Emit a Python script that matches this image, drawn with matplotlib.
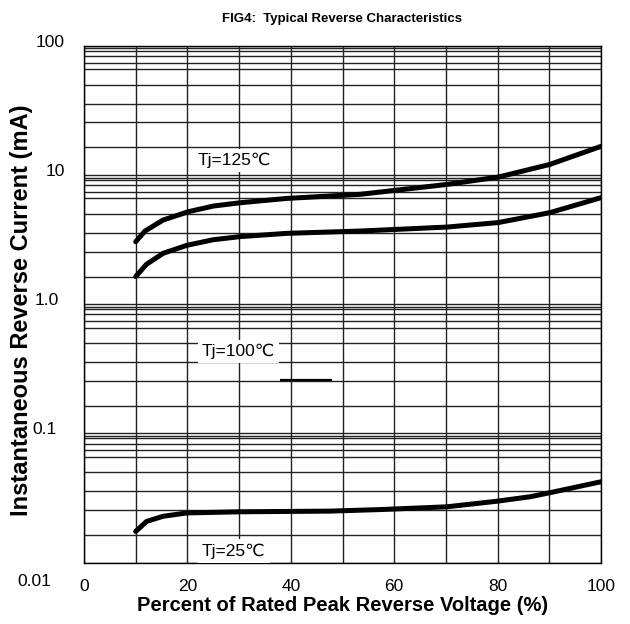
import matplotlib
matplotlib.use("Agg")
import matplotlib.pyplot as plt
from matplotlib.ticker import FixedLocator, NullFormatter
import matplotlib.transforms as mtransforms
from matplotlib import font_manager

# ---- data ----
t125_x = [10, 11.8, 15.3, 20.2, 25, 30.2, 39.2, 53.4, 70.2, 80.1, 90.1, 100]
t125_y = [3.05, 3.69, 4.49, 5.21, 5.76, 6.11, 6.6, 7.1, 8.47, 9.65, 12.1, 16.7]

t100_x = [10, 12.1, 15.3, 19.9, 25, 30.2, 39.2, 53.4, 70.2, 80.1, 90.1, 100]
t100_y = [1.64, 2.04, 2.48, 2.86, 3.16, 3.34, 3.54, 3.69, 3.96, 4.29, 5.12, 6.69]

t25_x = [10, 12.1, 15.3, 19.9, 30.2, 47.6, 57.3, 70.2, 79.8, 86.3, 90.1, 100]
t25_y = [0.0174, 0.0208, 0.0228, 0.0242, 0.0247, 0.0250, 0.0257, 0.027, 0.0298, 0.0323, 0.0347, 0.0422]

x_ticks = list(range(0, 101, 10))
x_ticklabels = ["0", "", "20", "", "40", "", "60", "", "80", "", "100"]
y_ticks = [0.01, 0.1, 1, 10, 100]
y_ticklabels = ["0.01", "0.1", "1.0", "10", "100"]
# grid multipliers inside each decade (as drawn on the datasheet)
decade_grid = [1.64, 2.56, 3.56, 4.99, 6.60, 7.39, 8.34, 9.165, 9.58]

plt.rcParams["font.family"] = ["Liberation Sans", "DejaVu Sans"]
names = {f.name for f in font_manager.fontManager.ttflist}
narrow = "Liberation Sans Narrow" if "Liberation Sans Narrow" in names else "Liberation Sans"

fig = plt.figure(figsize=(6.3, 6.24), dpi=100)
ax = fig.add_axes([84/630, 1-562.5/624, (601-84)/630, (562.5-46)/624])
ax.set_yscale("log")
ax.set_xlim(0, 100)
ax.set_ylim(0.01, 100)

minor = [d*m for d in [0.01, 0.1, 1, 10] for m in decade_grid]
ax.yaxis.set_major_locator(FixedLocator(y_ticks))
ax.yaxis.set_minor_locator(FixedLocator(minor))
ax.yaxis.set_minor_formatter(NullFormatter())
ax.set_yticklabels(y_ticklabels)
ax.xaxis.set_major_locator(FixedLocator(x_ticks))
ax.set_xticklabels(x_ticklabels)

ax.grid(True, which="major", axis="both", color="#222222", lw=1.0)
ax.grid(True, which="minor", axis="y", color="#222222", lw=1.0)
ax.tick_params(which="both", length=0)
ax.tick_params(axis="x", pad=12, labelsize=12.5)
ax.tick_params(axis="y", pad=14, labelsize=12.5)
for lab in ax.get_xticklabels() + ax.get_yticklabels():
    lab.set_family([narrow, "DejaVu Sans"])
for sp in ax.spines.values():
    sp.set_color("black")
    sp.set_linewidth(1.0)

# y tick label offsets (pixels) like the scanned reference
offsets = {"100": (0, 5), "10": (0, 5), "1.0": (-6, 5), "0.1": (-8, 5), "0.01": (-13, -17)}
for lab in ax.get_yticklabels():
    dx, dy = offsets.get(lab.get_text(), (0, 0))
    off = mtransforms.ScaledTranslation(dx/100, dy/100, fig.dpi_scale_trans)
    lab.set_transform(lab.get_transform() + off)

lw = 3.6
ax.plot(t125_x, t125_y, color="black", lw=lw, solid_capstyle="round", zorder=5)
ax.plot(t100_x, t100_y, color="black", lw=lw, solid_capstyle="round", zorder=5)
ax.plot(t25_x, t25_y, color="black", lw=lw, solid_capstyle="round", zorder=5)

box = dict(facecolor="white", edgecolor="none", pad=3)
ax.text(22.0, 13.0, "Tj=125℃", fontsize=12.5, ha="left", va="center", bbox=box, zorder=4)
ax.text(22.8, 0.43, "Tj=100℃", fontsize=12.5, ha="left", va="center", bbox=box, zorder=4)
ax.text(22.8, 0.0122, "Tj=25℃", fontsize=12.5, ha="left", va="center", bbox=box, zorder=4)
ax.hlines(0.258, 38, 48, color="black", lw=1.6, zorder=4)

ax.set_title("FIG4:  Typical Reverse Characteristics", fontsize=9.5, fontweight="bold", pad=17,
             family=[narrow, "DejaVu Sans"])
ax.set_xlabel("Percent of Rated Peak Reverse Voltage (%)", fontsize=14.5, fontweight="bold", labelpad=1)
ax.set_ylabel("Instantaneous Reverse Current (mA)", fontsize=17, fontweight="bold")
ax.yaxis.set_label_coords(-0.098, 0.489)

fig.savefig("out.png", dpi=100)
